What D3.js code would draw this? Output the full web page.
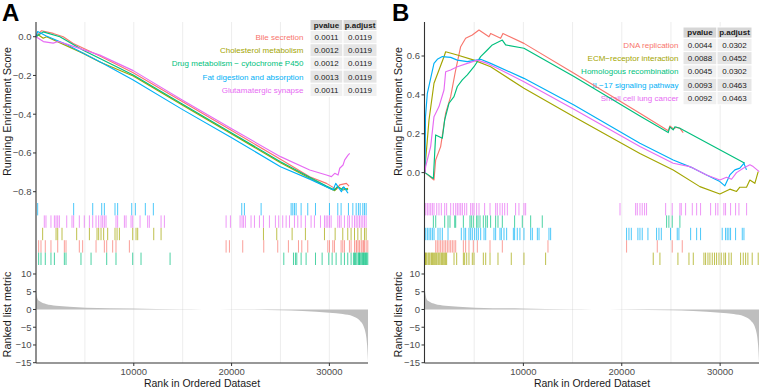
<!DOCTYPE html>
<html>
<head>
<meta charset="utf-8">
<script src="https://cdn.jsdelivr.net/npm/d3@7"></script>
<style>
  html, body { margin: 0; padding: 0; background: #fff; }
  svg { display: block; font-family: "Liberation Sans", Arial, sans-serif; }
</style>
</head>
<body>
<svg id="chart" width="761" height="388"></svg>
<script>
/* GSEA running-score panels (A: down-regulated sets, B: up-regulated sets) */
(function () {
  "use strict";

  // ---- data -------------------------------------------------------------
  var geneCount = 33950;
  var xTicks = [10000, 20000, 30000];
  var metricTicks = [10, 5, 0, -5, -10, -15];

  // panel A gene sets (factor order = colour order)
  var setsA = ["Bile secretion", "Cholesterol metabolism", "Drug metabolism \u2212 cytochrome P450",
    "Fat digestion and absorption", "Glutamatergic synapse"];
  var pvalA = ["0.0011", "0.0012", "0.0012", "0.0013", "0.0011"];
  var padjA = ["0.0119", "0.0119", "0.0119", "0.0119", "0.0119"];
  var esTicksA = [0, -0.2, -0.4, -0.6, -0.8];

  var esBile = [[0, 0], [570, 0.031], [1760, 0.017], [2780, 0], [3810, -0.035], [6530, -0.1], [9940, -0.186],
    [14950, -0.335], [19920, -0.482], [25000, -0.633], [27990, -0.723], [29700, -0.757], [30720, -0.788],
    [31060, -0.765], [31740, -0.757], [32010, -0.771]];
  var esCholesterol = [[0, 0], [230, 0.01], [740, -0.008], [1080, 0], [4830, -0.086], [6530, -0.13], [9940, -0.203],
    [14950, -0.353], [19920, -0.499], [25000, -0.65], [27990, -0.731], [29700, -0.774], [30550, -0.795],
    [30890, -0.774], [31400, -0.791], [31910, -0.783]];
  var esDrug = [[0, 0], [740, 0.025], [2440, 0], [4830, -0.07], [9940, -0.198], [14950, -0.347], [19920, -0.494],
    [25000, -0.645], [27990, -0.726], [29700, -0.771], [30550, -0.791], [30790, -0.775], [31230, -0.788],
    [31400, -0.778], [31910, -0.791]];
  var esFat = [[0, 0], [170, 0.027], [1000, 0.005], [3250, -0.043], [3850, -0.06], [6530, -0.129], [9940, -0.223],
    [14950, -0.375], [19920, -0.519], [25000, -0.671], [27990, -0.735], [30380, -0.791], [30650, -0.757],
    [31230, -0.8], [31470, -0.775], [31910, -0.808]];
  var esGlut = [[0, 0], [750, -0.025], [1760, -0.033], [2270, -0.025], [3130, -0.038], [6530, -0.095], [9940, -0.175],
    [14950, -0.327], [19920, -0.473], [25000, -0.619], [27990, -0.688], [29700, -0.714], [30210, -0.722],
    [30550, -0.705], [30890, -0.714], [31060, -0.679], [31400, -0.662], [31570, -0.636], [31910, -0.611],
    [32080, -0.602]];

  var hitsBile = [270, 510, 950, 1530, 2220, 2900, 3070, 4430, 4770, 6140, 6990, 7230, 7840, 8180, 9550, 19440,
    19780, 21140, 23290, 24720, 25810, 26840, 27180, 27790, 29840, 30010, 30350, 30520, 31200, 31370, 31540,
    32050, 32220, 32570, 32740, 32800, 32940, 33080, 33250, 33350, 33490, 33590, 33760, 33930];
  var hitsCholesterol = [680, 2050, 2220, 2660, 4160, 5460, 6240, 6410, 6650, 6920, 7330, 8080, 8290, 8530, 9890,
    10230, 10400, 12040, 12790, 23260, 24620, 26190, 27550, 29500, 30590, 31370, 31880, 32220, 32570, 32910,
    33250, 33590, 33760];
  var hitsDrug = [270, 510, 950, 1530, 1880, 2900, 3070, 4600, 5630, 7230, 8180, 9890, 10740, 13710, 25340, 26330,
    26530, 26670, 27110, 27620, 28580, 29260, 29940, 30280, 30690, 31200, 31540, 31880, 32220, 32460, 32570,
    32670, 32800, 32940, 33010, 33080, 33150, 33250, 33350, 33420, 33490, 33590, 33690, 33760, 33830, 33930];
  var hitsFat = [170, 3850, 5800, 6720, 6990, 8080, 8350, 9790, 10160, 11180, 12000, 21040, 21310, 23020, 26090,
    26260, 26430, 26600, 27110, 27790, 28580, 30010, 30860, 31200, 31950, 32400, 32740, 32970, 33150, 33420,
    33590, 33760];
  var hitsGlut = [850, 1020, 1530, 1880, 2050, 2220, 2390, 3140, 3680, 3850, 4430, 4940, 5460, 5800, 6140, 6410,
    6650, 6820, 6990, 7160, 8180, 8350, 9040, 9210, 9720, 9890, 10640, 11420, 11590, 12790, 13130, 19440, 19880,
    20870, 21070, 21210, 21410, 21990, 22340, 22850, 23260, 23870, 24480, 24820, 25230, 25580, 25920, 26430,
    26770, 27110, 27550, 28130, 28470, 29090, 29500, 29670, 29840, 30010, 30180, 30860, 31030, 31200, 31540,
    31880, 32050, 32330, 32570, 32740, 32910, 33080, 33250, 33420, 33590, 33760];
  var rugRowA = [3, 2, 4, 0, 1];   // top-to-bottom slot of each set in the rug strip

  // panel B gene sets
  var setsB = ["DNA replication", "ECM\u2212receptor interaction", "Homologous recombination",
    "IL\u221217 signaling pathway", "Small cell lung cancer"];
  var pvalB = ["0.0044", "0.0088", "0.0045", "0.0093", "0.0092"];
  var padjB = ["0.0302", "0.0452", "0.0302", "0.0463", "0.0463"];
  var esTicksB = [0, 0.2, 0.4, 0.6];

  var esDNA = [[0, 0], [914, -0.038], [1083, 0.065], [1591, 0.134], [2100, 0.306], [2608, 0.391], [3116, 0.528],
    [3624, 0.648], [4132, 0.691], [4809, 0.708], [5487, 0.734], [6503, 0.699], [6672, 0.716], [7688, 0.691],
    [7925, 0.716], [10058, 0.665], [15140, 0.511], [21844, 0.305], [24723, 0.216], [24893, 0.24],
    [25231, 0.226], [25570, 0.233], [25908, 0.228], [26247, 0.206]];
  var esECM = [[0, 0], [67, 0.065], [406, 0.271], [914, 0.46], [1422, 0.528], [1930, 0.596], [2100, 0.622],
    [3285, 0.605], [4979, 0.579], [6672, 0.545], [10058, 0.434], [15140, 0.288], [21844, 0.098], [25231, 0.014],
    [27940, -0.072], [29973, -0.11], [30989, -0.085], [31666, -0.097], [32005, -0.075], [32682, -0.075],
    [33021, -0.038], [33529, -0.055], [33868, 0.005]];
  var esHomologous = [[0, 0], [850, -0.03], [1083, 0.194], [1761, 0.177], [2000, 0.271], [2438, 0.357],
    [2946, 0.391], [3285, 0.443], [3793, 0.477], [4301, 0.503], [4979, 0.545], [5656, 0.597], [6333, 0.631],
    [6841, 0.657], [7858, 0.682], [8196, 0.657], [10058, 0.64], [15140, 0.494], [21844, 0.291], [24554, 0.211],
    [24723, 0.206], [24893, 0.235], [25231, 0.22], [25400, 0.236], [25908, 0.228], [32513, 0.048]];
  var esIL17 = [[0, 0], [50, 0.288], [237, 0.408], [575, 0.485], [914, 0.562], [1253, 0.583], [1761, 0.597],
    [2608, 0.593], [3285, 0.579], [4301, 0.571], [5656, 0.583], [6672, 0.562], [10058, 0.485], [15140, 0.348],
    [21844, 0.151], [25231, 0.065], [27263, 0.023], [28618, -0.012], [29973, -0.046], [30481, -0.068],
    [30989, -0.012], [31497, 0.014], [32005, 0.023], [32411, 0.048], [32680, 0.014]];
  var esSCLC = [[0, 0], [67, 0.031], [575, 0.134], [914, 0.288], [1422, 0.34], [1930, 0.425], [2100, 0.519],
    [2608, 0.528], [3285, 0.545], [4301, 0.562], [5318, 0.579], [6333, 0.562], [7349, 0.537], [10058, 0.468],
    [15140, 0.326], [21844, 0.134], [25231, 0.048], [26924, 0.031], [28618, -0.012], [29973, -0.038],
    [30651, -0.024], [31158, -0.034], [31666, 0], [32344, 0.023], [33021, 0.04], [33360, 0.031], [33970, 0.005]];

  var hitsDNA = [1090, 1250, 1420, 1590, 1760, 1930, 2100, 2270, 2440, 2610, 2780, 2950, 3120, 3900, 4130, 4470,
    4910, 5320, 6610, 7860, 12500, 20490, 23610, 25130, 26150];
  var hitsECM = [20, 70, 170, 310, 410, 510, 650, 750, 850, 980, 1090, 1190, 1320, 1420, 1530, 1660, 1760, 1860,
    2000, 2100, 2200, 2950, 3220, 3900, 4030, 4240, 4470, 4810, 4980, 5930, 6170, 6610, 7420, 8770, 10060, 12260,
    23200, 23880, 25710, 26830, 27270, 28350, 28520, 28760, 28960, 29200, 29430, 29640, 29880, 30110, 30380,
    30550, 30890, 31130, 32080, 32350, 32590, 32820, 33260, 33870];
  var hitsHomologous = [850, 1090, 2000, 2340, 2540, 3020, 3120, 3900, 4570, 4710, 4910, 5250, 5390, 5590, 5930,
    6170, 6340, 6670, 7180, 7420, 7860, 9110, 9890, 10740, 11920, 24560, 24790, 25130, 25910];
  var hitsIL17 = [70, 240, 410, 580, 750, 920, 1320, 1530, 1760, 2340, 3690, 3960, 4130, 4470, 4640, 4810, 5050,
    5250, 5420, 5660, 6000, 6170, 7010, 7180, 7620, 7760, 8030, 8300, 8980, 9110, 9380, 9650, 10060, 10740,
    10910, 11420, 11590, 12600, 12770, 20490, 20730, 20970, 21640, 21850, 22080, 22660, 23540, 23780, 24020,
    24960, 25640, 25810, 27000, 27610, 28010, 30210, 30550, 30720, 30890, 31060, 31570, 32250, 32420];
  var hitsSCLC = [70, 240, 410, 580, 750, 920, 1190, 1420, 1660, 2000, 2200, 2610, 2880, 3120, 3290, 3460, 3630,
    3800, 4030, 4240, 4640, 4810, 4980, 5250, 5490, 6060, 6610, 7180, 7350, 7620, 7860, 8100, 8370, 9210, 9550,
    10060, 10230, 19820, 21410, 21580, 21850, 22080, 22320, 22520, 24460, 25130, 25910, 26050, 26490, 27170,
    27610, 28010, 29030, 29540, 29770, 30380, 30550, 31060, 31570, 31910, 32690];
  var rugRowB = [3, 4, 1, 2, 0];

  // ranked list metric (same ranked list behind both panels)
  var rankedMetric = [[0, 5.2], [170, 2.9], [510, 2.1], [1020, 1.55], [2050, 1.08], [3410, 0.8], [5120, 0.52],
    [9890, 0.28], [14660, 0.05], [17050, 0], [20460, -0.05], [24890, -0.23], [27280, -0.42], [30010, -0.9],
    [31370, -1.27], [32400, -1.9], [33080, -3.05], [33590, -5.4], [33860, -10.1], [33950, -14.8]];

  // ---- styling / layout --------------------------------------------------
  var COLORS = ["#F8766D", "#A3A500", "#00BF7D", "#00B0F6", "#E76BF3"];
  var INK = "#1a1a1a", TICK_TXT = "#4d4d4d", AXIS = "#333333", GRID = "#ebebeb";
  var ES_TOP = 22, ES_BOT = 201, RUG_TOP = 203, RUG_H = 12.4, M_TOP = 266, M_BOT = 363;

  var PANELS = [
    { tag: "A", tagX: 2, axisX: 36, x0: 36, x1: 368, titleX: 7,
      esDomain: [-0.848, 0.076], esTicks: esTicksA, sets: setsA, pval: pvalA, padj: padjA,
      curves: [esBile, esCholesterol, esDrug, esFat, esGlut],
      hits: [hitsBile, hitsCholesterol, hitsDrug, hitsFat, hitsGlut], rugRow: rugRowA,
      table: { x: 310, y: 19.5, colW: [33, 34], headH: 11, rowH: 13.2 }, labelRight: 303.5 },
    { tag: "B", tagX: 392, axisX: 424.5, x0: 425, x1: 759, titleX: 398,
      esDomain: [-0.146, 0.775], esTicks: esTicksB, sets: setsB, pval: pvalB, padj: padjB,
      curves: [esDNA, esECM, esHomologous, esIL17, esSCLC],
      hits: [hitsDNA, hitsECM, hitsHomologous, hitsIL17, hitsSCLC], rugRow: rugRowB,
      table: { x: 683, y: 27, colW: [34, 35], headH: 11.3, rowH: 13.3 }, labelRight: 678.5 }
  ];

  var svg = d3.select("#chart");
  var fmtES = d3.format(".1f");

  function drawPanel(p) {
    var g = svg.append("g");
    var x = d3.scaleLinear().domain([0, geneCount]).range([p.x0, p.x1]);
    var yES = d3.scaleLinear().domain(p.esDomain).range([ES_BOT, ES_TOP]);
    var yM = d3.scaleLinear().domain([-15.08, 12.25]).range([M_BOT, M_TOP]);

    // vertical grid every 5000 through all three strips
    g.append("g").selectAll("line").data(x.ticks(7).filter(function (t) { return t > 0; }))
      .enter().append("line")
      .attr("x1", function (d) { return x(d); }).attr("x2", function (d) { return x(d); })
      .attr("y1", ES_TOP).attr("y2", M_BOT)
      .attr("stroke", GRID).attr("stroke-width", 0.9);

    // set labels (drawn under the curves) + p-value table
    var t = p.table;
    var rowY = function (i) { return t.y + t.headH + t.rowH * i; };
    g.append("g").selectAll("text").data(p.sets).enter().append("text")
      .attr("x", p.labelRight).attr("y", function (d, i) { return rowY(i) + t.rowH / 2; })
      .attr("dy", "0.35em").attr("text-anchor", "end").attr("font-size", 8)
      .attr("fill", function (d, i) { return COLORS[i]; })
      .text(function (d) { return d; });

    var tg = g.append("g").attr("font-size", 8).attr("fill", INK);
    var colX = [t.x, t.x + t.colW[0]];
    ["pvalue", "p.adjust"].forEach(function (h, c) {
      tg.append("rect").attr("x", colX[c]).attr("y", t.y).attr("width", t.colW[c]).attr("height", t.headH)
        .attr("fill", "#d6d6d6").attr("stroke", "#fff").attr("stroke-width", 1);
      tg.append("text").attr("x", colX[c] + t.colW[c] / 2).attr("y", t.y + t.headH / 2).attr("dy", "0.35em")
        .attr("text-anchor", "middle").attr("font-weight", "bold").text(h);
    });
    p.sets.forEach(function (s, i) {
      [p.pval[i], p.padj[i]].forEach(function (v, c) {
        tg.append("rect").attr("x", colX[c]).attr("y", rowY(i)).attr("width", t.colW[c]).attr("height", t.rowH)
          .attr("fill", i % 2 ? "#e5e5e5" : "#f0f0f0").attr("stroke", "#fff").attr("stroke-width", 1);
        tg.append("text").attr("x", colX[c] + t.colW[c] / 2).attr("y", rowY(i) + t.rowH / 2).attr("dy", "0.35em")
          .attr("text-anchor", "middle").text(v);
      });
    });

    // running enrichment score curves
    var line = d3.line().x(function (d) { return x(d[0]); }).y(function (d) { return yES(d[1]); });
    g.append("g").selectAll("path").data(p.curves).enter().append("path")
      .attr("d", line).attr("fill", "none").attr("stroke-width", 1.15).attr("stroke-linejoin", "round")
      .attr("stroke", function (d, i) { return COLORS[i]; });

    // hit rug, one strip per set
    p.hits.forEach(function (hits, i) {
      var top = RUG_TOP + RUG_H * p.rugRow[i];
      g.append("g").selectAll("line").data(hits).enter().append("line")
        .attr("x1", function (d) { return x(d); }).attr("x2", function (d) { return x(d); })
        .attr("y1", top).attr("y2", top + RUG_H)
        .attr("stroke", COLORS[i]).attr("stroke-width", 1).attr("stroke-opacity", 0.7);
    });

    // ranked list metric
    var area = d3.area().curve(d3.curveMonotoneX)
      .x(function (d) { return x(d[0]); }).y0(yM(0)).y1(function (d) { return yM(d[1]); });
    g.append("path").datum(rankedMetric).attr("d", area).attr("fill", "#bebebe");

    // axes
    var ax = g.append("g").attr("font-size", 9.5).attr("fill", TICK_TXT);
    ax.append("line").attr("x1", p.axisX).attr("x2", p.axisX).attr("y1", ES_TOP).attr("y2", M_BOT)
      .attr("stroke", AXIS).attr("stroke-width", 1.1);
    ax.append("line").attr("x1", p.axisX).attr("x2", p.x1).attr("y1", M_BOT).attr("y2", M_BOT)
      .attr("stroke", AXIS).attr("stroke-width", 1.1);

    function yTicks(ticks, scale, fmt) {
      var tk = ax.append("g").selectAll("g").data(ticks).enter().append("g")
        .attr("transform", function (d) { return "translate(0," + scale(d) + ")"; });
      tk.append("line").attr("x1", p.axisX - 3).attr("x2", p.axisX).attr("stroke", AXIS);
      tk.append("text").attr("x", p.axisX - 4.5).attr("dy", "0.35em").attr("text-anchor", "end").text(fmt);
    }
    yTicks(p.esTicks, yES, fmtES);
    yTicks(metricTicks, yM, d3.format("d"));

    var xt = ax.append("g").selectAll("g").data(xTicks).enter().append("g")
      .attr("transform", function (d) { return "translate(" + x(d) + "," + M_BOT + ")"; });
    xt.append("line").attr("y2", 3).attr("stroke", AXIS);
    xt.append("text").attr("y", 11.8).attr("text-anchor", "middle").text(function (d) { return d; });

    // titles
    g.append("text").attr("x", (p.x0 + p.x1) / 2).attr("y", 386.5).attr("text-anchor", "middle")
      .attr("font-size", 10.5).attr("fill", INK).text("Rank in Ordered Dataset");
    g.append("text").attr("transform", "translate(" + p.titleX + "," + (ES_TOP + ES_BOT) / 2 + ") rotate(-90)")
      .attr("dy", "0.35em").attr("text-anchor", "middle").attr("font-size", 10.8).attr("fill", INK)
      .text("Running Enrichment Score");
    g.append("text").attr("transform", "translate(" + p.titleX + "," + (M_TOP + M_BOT) / 2 + ") rotate(-90)")
      .attr("dy", "0.35em").attr("text-anchor", "middle").attr("font-size", 10.8).attr("fill", INK)
      .text("Ranked list metric");

    g.append("text").attr("x", p.tagX).attr("y", 20.7).attr("font-size", 24).attr("font-weight", "bold")
      .attr("fill", "#000").text(p.tag);
  }

  PANELS.forEach(drawPanel);
})();
</script>
</body>
</html>
